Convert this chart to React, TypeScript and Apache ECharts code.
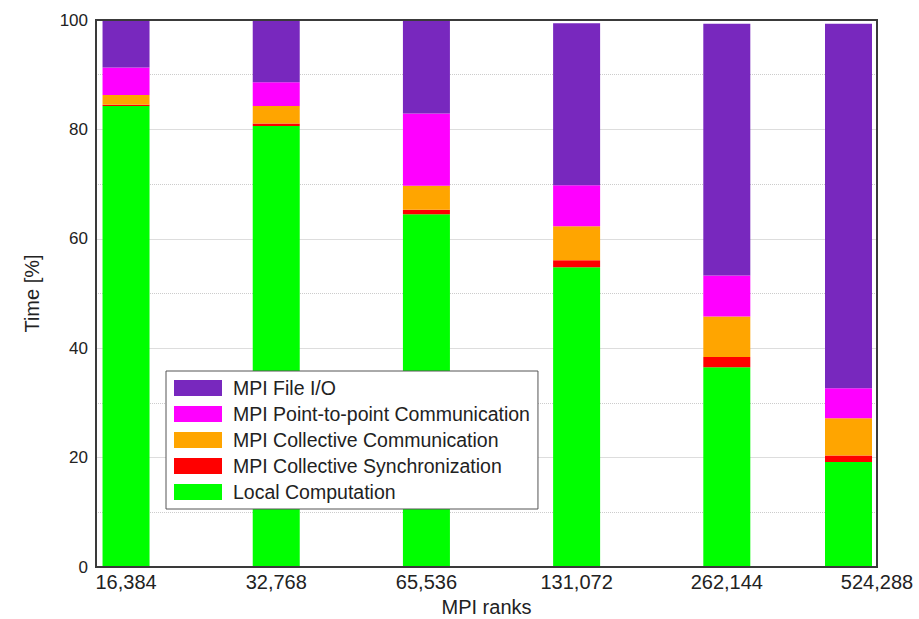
import React, { useEffect, useRef } from "react";
import * as echarts from "echarts";

const categories = ["16,384", "32,768", "65,536", "131,072", "262,144", "524,288"];
const localComputation = [84.3, 80.6, 64.5, 54.8, 36.5, 19.2];
const collectiveSync = [0.2, 0.5, 0.8, 1.3, 1.9, 1.2];
const collectiveComm = [1.8, 3.2, 4.4, 6.2, 7.4, 6.8];
const pointToPoint = [5.0, 4.3, 13.2, 7.5, 7.5, 5.5];
const fileIO = [8.7, 11.4, 16.9, 29.6, 46.0, 66.6];
const yTicks = [0, 20, 40, 60, 80, 100];

const W = 919;
const H = 619;
const GRID_LEFT = 96;
const GRID_RIGHT = 42;
const GRID_TOP = 20;
const GRID_BOTTOM = 52;
const X_MIN = -0.2;
const X_MAX = categories.length - 1;
const BAR_WIDTH = 47;
const FONT = "'Liberation Sans', Arial, sans-serif";

export default function App() {
  const ref = useRef<HTMLDivElement>(null);
  useEffect(() => {
    if (!ref.current) return;
    const chart = echarts.init(ref.current, undefined, { renderer: "svg" });
    const plotW = W - GRID_LEFT - GRID_RIGHT;
    const pxPerUnit = plotW / (X_MAX - X_MIN);
    const lastPos = X_MAX - (BAR_WIDTH / 2 + 5) / pxPerUnit;
    const xPos = categories.map((_, i) => Math.min(i, lastPos));
    const mk = (name: string, vals: number[], color: string) => ({
      name,
      type: "bar",
      stack: "total",
      barWidth: BAR_WIDTH,
      dimensions: ["val", "pos"],
      encode: { x: "pos", y: "val" },
      data: vals.map((v, i) => [v, xPos[i]]),
      itemStyle: { color },
    });
    chart.setOption({
      animation: false,
      backgroundColor: "#fff",
      grid: {
        left: GRID_LEFT,
        right: GRID_RIGHT,
        top: GRID_TOP,
        bottom: GRID_BOTTOM,
        containLabel: false,
        outerBoundsMode: "none",
        show: true,
        borderColor: "#3a3a3a",
        borderWidth: 2,
        backgroundColor: "transparent",
        z: 10,
      },
      legend: {
        orient: "vertical",
        left: 166,
        top: 371,
        itemWidth: 48,
        itemHeight: 16,
        itemGap: 6,
        padding: [7, 8, 7, 8],
        borderColor: "#555",
        borderWidth: 1,
        backgroundColor: "#fff",
        icon: "rect",
        data: [
          "MPI File I/O",
          "MPI Point-to-point Communication",
          "MPI Collective Communication",
          "MPI Collective Synchronization",
          "Local Computation",
        ],
        textStyle: { fontFamily: FONT, fontSize: 19.5, color: "#222", padding: [0, 0, 0, 6] },
      },
      xAxis: {
        type: "value",
        min: X_MIN,
        max: X_MAX,
        name: "MPI ranks",
        nameLocation: "middle",
        nameGap: 30,
        nameTextStyle: { fontFamily: FONT, fontSize: 20, color: "#222" },
        axisLine: { show: false },
        axisTick: { show: false },
        splitLine: { show: false },
        axisLabel: {
          customValues: categories.map((_, i) => i),
          formatter: (v: number) => categories[Math.round(v)] ?? "",
          fontFamily: FONT,
          fontSize: 20,
          color: "#222",
          margin: 5,
        },
      },
      yAxis: {
        type: "value",
        min: 0,
        max: 100,
        interval: 20,
        name: "Time [%]",
        nameLocation: "middle",
        nameGap: 54,
        nameTextStyle: { fontFamily: FONT, fontSize: 20, color: "#222" },
        axisLine: { show: false },
        axisTick: { show: true, inside: true, length: 4, lineStyle: { color: "#888" } },
        axisLabel: {
          fontFamily: FONT,
          fontSize: 17,
          color: "#222",
          margin: 8,
          formatter: (v: number) => (yTicks.includes(v) ? String(v) : ""),
        },
        splitLine: { show: true, lineStyle: { color: "#ddd", width: 1 } },
        minorTick: { show: false, splitNumber: 2 },
        minorSplitLine: { show: true, lineStyle: { color: "#ccc", type: "dotted", width: 1 } },
      },
      series: [
        mk("Local Computation", localComputation, "#00ff00"),
        mk("MPI Collective Synchronization", collectiveSync, "#ff0000"),
        mk("MPI Collective Communication", collectiveComm, "#ffa500"),
        mk("MPI Point-to-point Communication", pointToPoint, "#ff00ff"),
        mk("MPI File I/O", fileIO, "#7828be"),
      ],
    });
    return () => chart.dispose();
  }, []);
  return (
    <div
      ref={ref}
      style={{ position: "absolute", left: 0, top: 0, width: W, height: H }}
    />
  );
}
